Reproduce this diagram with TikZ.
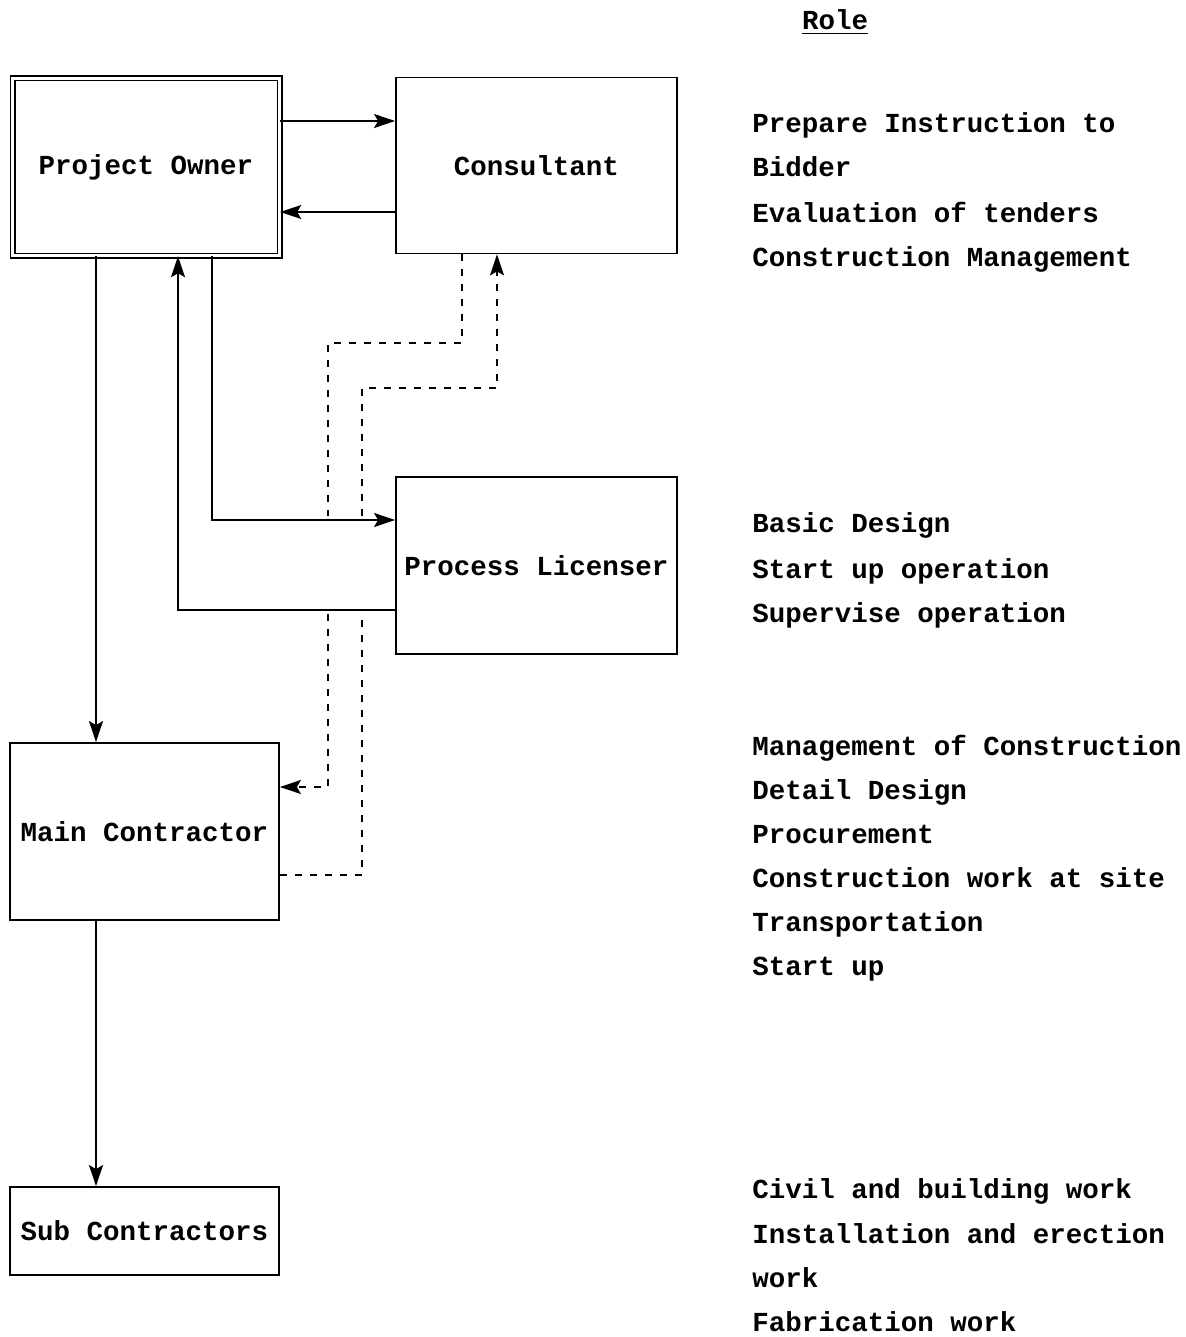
\documentclass[tikz,border=0pt]{standalone}
\usepackage{fontspec}
\setmainfont{Liberation Mono}
\usetikzlibrary{arrows.meta}
\tikzset{
  txt/.style={font=\fontsize{13.75}{16}\selectfont\bfseries},
  box/.style={draw, line width=0.9pt, inner sep=0pt, txt},
  dbox/.style={draw, double, line width=0.7pt, double distance=1.6pt, inner sep=0pt, txt},
  role/.style={anchor=base west, inner sep=0pt, txt},
  tip/.style={-{Stealth[length=10.5pt, width=7pt, inset=2pt]}},
  conn/.style={line width=0.9pt},
  arr/.style={conn, tip},
  dashln/.style={line width=0.9pt, dash pattern=on 3.5pt off 4pt},
  darr/.style={dashln, tip}
}
\begin{document}
\begin{tikzpicture}[x=0.5pt, y=-0.5pt]
\useasboundingbox (0,0) rectangle (1186,1337);

% boxes
\node[dbox, minimum width=133.5pt, minimum height=88.5pt] (po) at (146,167) {Project Owner};
\node[box, minimum width=140.5pt, minimum height=88pt] (cons) at (536.5,165.5) {Consultant};
\node[box, minimum width=140.5pt, minimum height=88.5pt] (pl) at (536.5,565.5) {Process Licenser};
\node[box, minimum width=134.5pt, minimum height=88.5pt] (mc) at (144.5,831.5) {Main Contractor};
\node[box, minimum width=134.5pt, minimum height=44pt] (sc) at (144.5,1231) {Sub Contractors};

% solid connectors
\draw[arr] (po.east |- 0,121) -- (cons.west |- 0,121);
\draw[arr] (cons.west |- 0,212) -- (po.east |- 0,212);
\draw[arr] (po.south -| 96,0) -- (mc.north -| 96,0);
\draw[arr] (mc.south -| 96,0) -- (sc.north -| 96,0);
\draw[arr] (pl.west |- 0,610) -| (po.south -| 178,0);
\draw[arr] (po.south -| 212,0) |- (pl.west |- 0,520);

% dashed connectors (interrupted between the two solid lines)
\draw[dashln] (cons.south -| 462,0) |- (328,343) -- (328,516);
\draw[darr] (328,614) -- (328,787) -- (mc.east |- 0,787);
\draw[dashln] (mc.east |- 0,875) -| (362,614);
\draw[darr] (362,516) -- (362,388) -| (cons.south -| 497,0);

% role column
\node[role, anchor=base] (rt) at (835,30) {\underline{Role}};

\node[role] (a1) at (752,133) {Prepare Instruction to};
\node[role] (a2) at (752,177) {Bidder};
\node[role] (a3) at (752,222) {Evaluation of tenders};
\node[role] (a4) at (752,266) {Construction Management};

\node[role] (b1) at (752,532) {Basic Design};
\node[role] (b2) at (752,578) {Start up operation};
\node[role] (b3) at (752,622) {Supervise operation};

\node[role] (c1) at (752,755) {Management of Construction};
\node[role] (c2) at (752,799) {Detail Design};
\node[role] (c3) at (752,843) {Procurement};
\node[role] (c4) at (752,887) {Construction work at site};
\node[role] (c5) at (752,931) {Transportation};
\node[role] (c6) at (752,975) {Start up};

\node[role] (d1) at (752,1198) {Civil and building work};
\node[role] (d2) at (752,1243) {Installation and erection};
\node[role] (d3) at (752,1287) {work};
\node[role] (d4) at (752,1331) {Fabrication work};
\end{tikzpicture}
\end{document}
